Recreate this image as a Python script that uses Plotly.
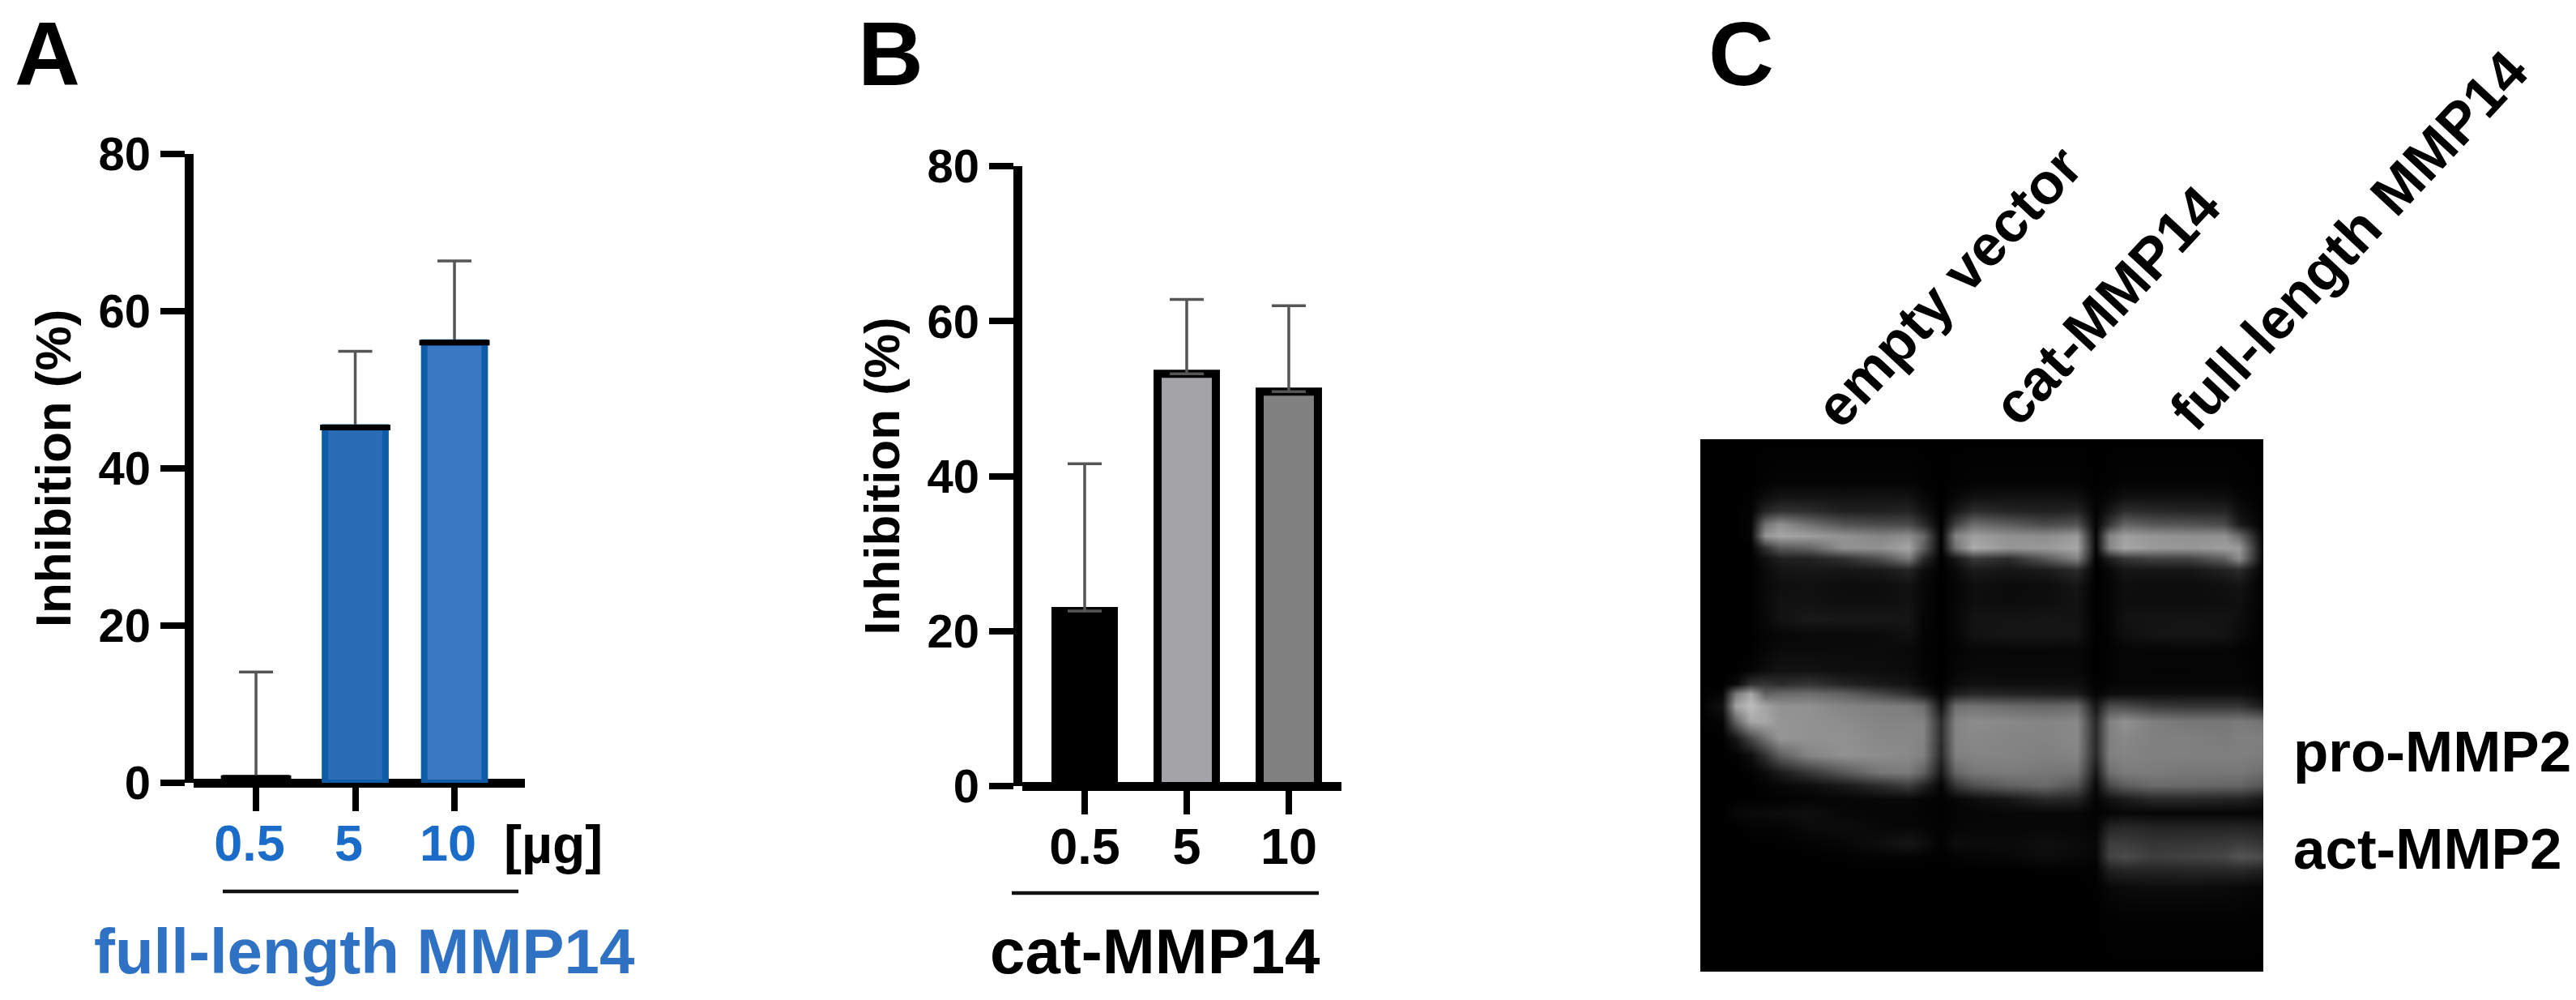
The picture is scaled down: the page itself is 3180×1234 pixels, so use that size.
import plotly.graph_objects as go

W, H = 3180, 1234
FONT = "Liberation Sans"

# ---------- data ----------
doses = ["0.5", "5", "10"]
y_ticks = [0, 20, 40, 60, 80]

full_values = [0.6, 45.2, 56.0]
full_errors = [13.5, 9.7, 10.4]
cat_values = [22.6, 53.2, 50.9]
cat_errors = [19.0, 9.6, 11.1]

full_fills = ["#000000", "#2a6cb6", "#3a78c4"]
full_edges = ["#000000", "#0f5ca6", "#0f5ca6"]
cat_fills = ["#000000", "#a3a3a8", "#808080"]

lane_labels = ["empty vector", "cat-MMP14", "full-length MMP14"]

gel_cols = [0, 60, 100, 140, 180, 220, 300, 400, 500, 580, 620, 670, 710, 760, 860, 960, 1050, 1100, 1140, 1180, 1260, 1360, 1460, 1500, 1568]
gel_rows = [0, 130, 170, 210, 250, 285, 320, 350, 385, 430, 480, 530, 575, 620, 680, 720, 750, 785, 830, 880, 930, 980, 1020, 1060, 1100, 1140, 1190, 1230, 1270, 1320, 1400, 1568]
gel_values = [
    [0]*25,
    [0,0,0,0,3,5,5,5,5,5,2,0,2,4,4,4,4,0,2,4,4,4,4,2,0],
    [0,0,0,2,14,22,22,20,22,20,8,0,8,18,20,20,18,2,8,18,18,18,16,6,0],
    [0,0,0,4,40,55,50,35,35,40,20,0,25,50,40,35,40,3,25,50,45,40,40,15,0],
    [0,0,0,5,130,165,130,95,85,85,50,0,75,125,105,85,95,5,60,115,100,95,85,30,0],
    [0,0,0,5,170,190,180,165,150,160,120,0,150,180,165,160,175,5,150,180,170,165,165,120,0],
    [0,0,0,0,55,100,110,165,165,190,110,0,130,195,170,175,190,5,150,190,175,170,180,175,0],
    [0,0,0,0,18,35,38,55,90,140,50,0,25,65,50,100,150,0,35,60,75,75,110,160,0],
    [0,0,0,0,12,22,26,24,28,40,14,0,10,30,24,30,48,0,8,24,24,24,38,48,0],
    [0,0,0,0,10,16,18,14,14,20,8,0,6,16,12,14,24,0,5,16,13,13,18,22,0],
    [0,0,0,0,10,20,20,16,16,20,7,0,6,16,13,15,20,0,5,15,14,14,16,18,0],
    [0,0,0,0,8,20,28,26,26,24,6,0,8,22,22,24,22,0,5,20,22,22,22,16,0],
    [0,0,0,0,5,8,10,10,12,18,5,0,6,20,24,24,22,0,4,16,22,24,22,12,0],
    [0,0,0,0,6,12,12,12,12,10,3,0,4,8,8,8,8,0,3,6,6,6,6,4,0],
    [0,0,0,5,14,20,20,16,14,12,4,0,6,10,10,10,10,0,3,6,5,5,6,6,0],
    [0,0,10,55,60,50,60,40,28,20,8,0,12,18,16,16,16,2,4,8,8,8,8,8,2],
    [0,5,140,190,110,120,125,110,80,55,30,3,35,45,40,36,32,5,12,16,16,16,16,16,6],
    [0,20,185,215,185,165,165,150,145,140,125,20,125,130,120,115,120,25,85,85,65,60,60,60,30],
    [0,5,115,190,190,170,165,160,150,150,150,50,150,160,155,150,155,45,145,165,145,135,135,140,130],
    [0,0,25,80,130,170,165,165,155,155,150,50,150,155,150,150,155,45,145,155,145,145,140,145,145],
    [0,0,2,15,55,105,150,165,160,155,145,45,145,150,150,145,150,45,145,150,145,145,145,145,140],
    [0,0,0,3,12,30,60,100,135,140,110,25,115,135,140,135,130,25,125,140,140,135,135,135,125],
    [0,0,0,0,3,8,14,28,50,70,40,5,60,90,110,120,95,10,80,105,120,120,115,115,95],
    [0,0,0,0,1,2,4,6,8,8,4,2,6,14,25,45,40,4,20,30,45,45,40,40,25],
    [0,0,8,12,12,14,16,8,6,6,4,2,5,6,8,8,8,3,5,8,6,6,6,6,5],
    [0,0,0,4,5,4,12,14,8,8,6,2,6,8,8,8,8,4,40,45,40,40,40,40,35],
    [0,0,0,0,0,1,3,7,16,25,16,3,14,12,12,16,12,8,70,70,60,62,65,70,60],
    [0,0,0,0,0,0,0,2,4,4,2,1,3,6,8,14,10,6,75,85,70,75,80,95,85],
    [0,0,0,0,0,0,0,0,0,0,0,0,0,0,0,1,1,2,35,40,40,42,42,45,35],
    [0,0,0,0,0,0,0,0,0,0,0,0,0,0,0,0,0,1,8,12,14,14,12,10,6],
    [0,0,0,0,0,0,0,0,0,0,0,0,0,0,0,0,0,0,2,3,3,3,3,3,2],
    [0]*25,
]

# ---------- helpers ----------
def px(v):
    return v / W

def py(v):
    return 1 - v / H

def text(x, y, s, size, color="#000000", angle=0, anchor="center"):
    fig.add_annotation(
        xref="paper", yref="paper", x=px(x), y=py(y), text=s, showarrow=False,
        textangle=angle, xanchor=anchor, yanchor="middle",
        font=dict(family=FONT, size=size, color=color, weight=700),
    )

fig = go.Figure()

# ---------- panel A ----------
fig.add_bar(
    x=doses, y=full_values, xaxis="x", yaxis="y", width=0.61,
    marker=dict(color=full_fills, line=dict(color=full_edges, width=8)),
    error_y=dict(type="data", symmetric=False, array=full_errors,
                 arrayminus=[0, 0, 0], color="#555555", thickness=3.5, width=21),
)
fig.add_scatter(
    x=doses, y=full_values, xaxis="x", yaxis="y", mode="markers",
    marker=dict(symbol="line-ew", size=62, line=dict(color="#000000", width=7)),
)

# ---------- panel B ----------
fig.add_bar(
    x=doses, y=cat_values, xaxis="x2", yaxis="y2", width=0.571,
    marker=dict(color=cat_fills, line=dict(color="#000000", width=10)),
    error_y=dict(type="data", symmetric=False, array=cat_errors,
                 arrayminus=[0, 0, 0], color="#555555", thickness=3.5, width=21),
)

# ---------- panel C ----------
fig.add_heatmap(
    x=gel_cols, y=gel_rows, z=gel_values, xaxis="x3", yaxis="y3",
    colorscale=[[0, "#000000"], [1, "#ffffff"]], zmin=0, zmax=290,
    zsmooth="best", showscale=False, hoverinfo="skip",
)

def xaxis(left, right, rng, color, anchor, shift):
    return dict(
        domain=[px(left), px(right)], range=rng, type="category", anchor=anchor,
        automargin=False,
        showline=False, showgrid=False, zeroline=False, ticks="outside", ticklen=34,
        tickwidth=8, tickcolor="#000000", ticklabelstandoff=-15, ticklabelshift=shift,
        tickfont=dict(family=FONT, size=63, color=color, weight=700),
    )

def yaxis(top, bottom, anchor):
    return dict(
        domain=[py(bottom), py(top)], range=[0, 80], anchor=anchor,
        automargin=False,
        tickmode="array", tickvals=y_ticks, ticktext=[str(v) for v in y_ticks],
        showline=True, linewidth=11, linecolor="#000000", showgrid=False,
        zeroline=True, zerolinewidth=11, zerolinecolor="#000000",
        ticks="outside", ticklen=30, tickwidth=8, tickcolor="#000000",
        tickfont=dict(family=FONT, size=58, color="#000000", weight=700),
        title=dict(text="Inhibition (%)", standoff=18,
                   font=dict(family=FONT, size=62, color="#000000", weight=700)),
    )

fig.update_layout(
    width=W, height=H, margin=dict(l=0, r=0, t=0, b=0, pad=0), autosize=False,
    paper_bgcolor="#ffffff", plot_bgcolor="#ffffff", showlegend=False,
    xaxis=xaxis(238.5, 648, [-0.633, 2.71], "#1a6cc8", "y", -8),
    yaxis=yaxis(190, 966, "x"),
    xaxis2=xaxis(1261.5, 1656, [-0.615, 2.516], "#000000", "y2", 0),
    yaxis2=yaxis(205, 970, "x2"),
    xaxis3=dict(domain=[px(2099), px(2794)], range=[0, 1568], anchor="y3", visible=False, automargin=False),
    yaxis3=dict(domain=[py(1199), py(542)], range=[1568, 0], anchor="x3", visible=False, automargin=False),
)

# ---------- texts and brackets ----------
text(58, 66, "A", 112)
text(1099, 66, "B", 112)
text(2149, 66, "C", 112)

text(683, 1042, "[µg]", 66)
text(449, 1174, "full-length MMP14", 78, "#2f72c4")
text(1425, 1174, "cat-MMP14", 78)

fig.add_shape(type="line", xref="paper", yref="paper", x0=px(275), x1=px(640), y0=py(1100), y1=py(1100),
              line=dict(color="#111111", width=4.5))
fig.add_shape(type="line", xref="paper", yref="paper", x0=px(1249), x1=px(1628), y0=py(1102), y1=py(1102),
              line=dict(color="#111111", width=4.5))

lane_positions = [(2406, 354), (2600, 377), (2900, 297)]
for (lx, ly), label in zip(lane_positions, lane_labels):
    text(lx, ly, label, 71, angle=-47)

text(2829, 927, "pro-MMP2", 71, anchor="left")
text(2829, 1047, "act-MMP2", 71, anchor="left")

fig.write_html("out.html", post_script="document.body.style.margin='0';",
               config={"displayModeBar": False})
